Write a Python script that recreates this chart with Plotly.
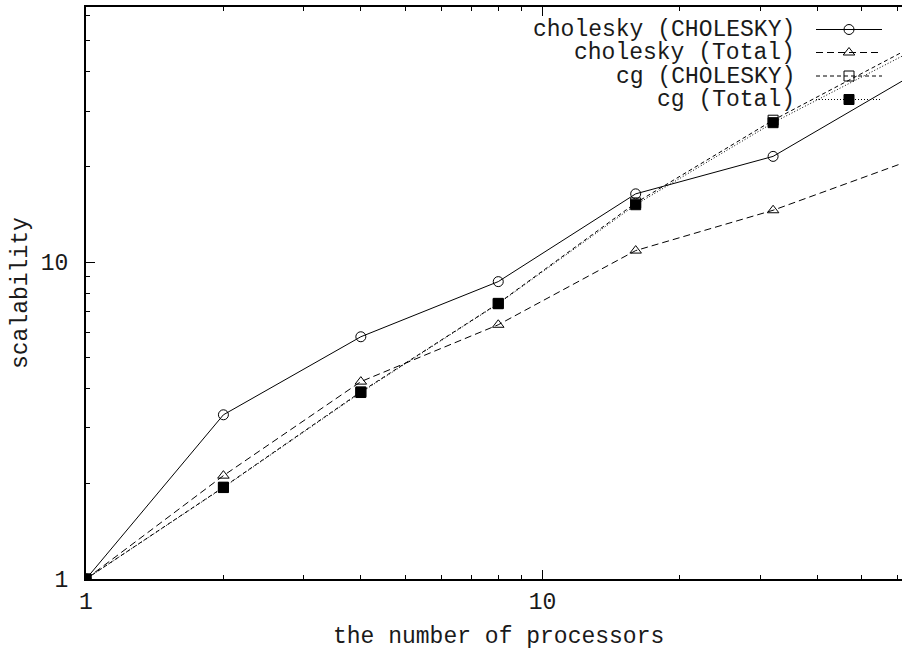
import math
import plotly.graph_objects as go

# Processor counts and measured speed-ups
procs = [1, 2, 4, 8, 16, 32, 64]
chol_chol = [1.0, 3.30, 5.82, 8.69, 16.45, 21.6, 38.7]
chol_total = [1.0, 2.12, 4.20, 6.35, 10.89, 14.6, 21.0]
cg_chol = [1.0, 1.95, 3.90, 7.42, 15.4, 28.1, 47.6]
cg_total = [1.0, 1.944, 3.88, 7.40, 15.2, 27.6, 46.2]

series_names = ["cholesky (CHOLESKY)", "cholesky (Total)", "cg (CHOLESKY)", "cg (Total)"]
series_values = [chol_chol, chol_total, cg_chol, cg_total]

major_ticks = [1, 10]
minor_ticks = [2, 3, 4, 5, 6, 7, 8, 9, 20, 30, 40, 50, 60]

FONT = "Liberation Mono, Courier New, monospace"
TEXT = "#1a1a1a"
W, H = 902, 654
L, R, T, B = 86, 902, 7, 579  # plot area edges in pixels

styles = [
    dict(dash="solid", symbol="circle-open"),
    dict(dash="7px,4px", symbol="triangle-up-open"),
    dict(dash="4px,3px", symbol="square-open"),
    dict(dash="1px,2px", symbol="square"),
]

fig = go.Figure()
for name, vals, st in zip(series_names, series_values, styles):
    fig.add_trace(go.Scatter(
        x=procs, y=vals, name=name, mode="lines+markers",
        line=dict(color="black", width=1, dash=st["dash"]),
        marker=dict(symbol=st["symbol"], size=10, color="black",
                    line=dict(color="black", width=1)),
        showlegend=False,
    ))

# Key: right-aligned labels with line samples on an overlay pixel axis
row_y = [29.5, 52.5, 76, 99.5]
for name, st, yy in zip(series_names, styles, row_y):
    fig.add_trace(go.Scatter(
        x=[816, 849, 882], y=[yy, yy, yy], xaxis="x2", yaxis="y2",
        mode="lines", line=dict(color="black", width=1, dash=st["dash"]),
        showlegend=False, hoverinfo="skip", cliponaxis=False,
    ))
    fig.add_trace(go.Scatter(
        x=[849], y=[yy], xaxis="x2", yaxis="y2", mode="markers",
        marker=dict(symbol=st["symbol"], size=10, color="black",
                    line=dict(color="black", width=1)),
        showlegend=False, hoverinfo="skip", cliponaxis=False,
    ))
    fig.add_annotation(
        x=(797 - L) / (R - L), y=(B - yy - 1) / (B - T), xref="paper", yref="paper",
        text=name, showarrow=False, xanchor="right", yanchor="middle",
        font=dict(family=FONT, size=23, color=TEXT),
    )

# Axis titles
fig.add_annotation(
    x=(498 - L) / (R - L), y=(B - 637) / (B - T), xref="paper", yref="paper",
    text="the number of processors", showarrow=False,
    xanchor="center", yanchor="middle",
    font=dict(family=FONT, size=23, color=TEXT),
)
fig.add_annotation(
    x=(21 - L) / (R - L), y=(B - 293) / (B - T), xref="paper", yref="paper",
    text="scalability", showarrow=False, textangle=-90,
    xanchor="center", yanchor="middle",
    font=dict(family=FONT, size=23, color=TEXT),
)

x_end = (R - L) / 456.5  # log10 of the value at the right edge
axis_common = dict(
    showgrid=False, zeroline=False, showline=True, linecolor="black",
    linewidth=2, ticks="inside", ticklen=9, tickwidth=1, tickcolor="black",
    tickfont=dict(family=FONT, size=23, color=TEXT),
)
fig.update_layout(
    width=W, height=H,
    margin=dict(l=L, r=W - R, t=T, b=H - B),
    plot_bgcolor="white", paper_bgcolor="white",
    xaxis=dict(type="log", range=[0, x_end], tickmode="array",
               tickvals=major_ticks, ticktext=[str(v) for v in major_ticks],
               mirror="ticks",
               minor=dict(tickmode="array", tickvals=minor_ticks, ticks="inside",
                          ticklen=4, tickwidth=1, tickcolor="black", showgrid=False),
               **axis_common),
    yaxis=dict(type="log", range=[0, math.log10(64)], tickmode="array",
               tickvals=major_ticks, ticktext=[str(v) for v in major_ticks],
               ticklabelstandoff=11,
               minor=dict(tickmode="array", tickvals=minor_ticks, ticks="inside",
                          ticklen=4, tickwidth=1, tickcolor="black", showgrid=False),
               **axis_common),
    xaxis2=dict(overlaying="x", range=[L, R], visible=False, fixedrange=True),
    yaxis2=dict(overlaying="y", range=[B, T], visible=False, fixedrange=True),
)

fig.write_html("out.html")
